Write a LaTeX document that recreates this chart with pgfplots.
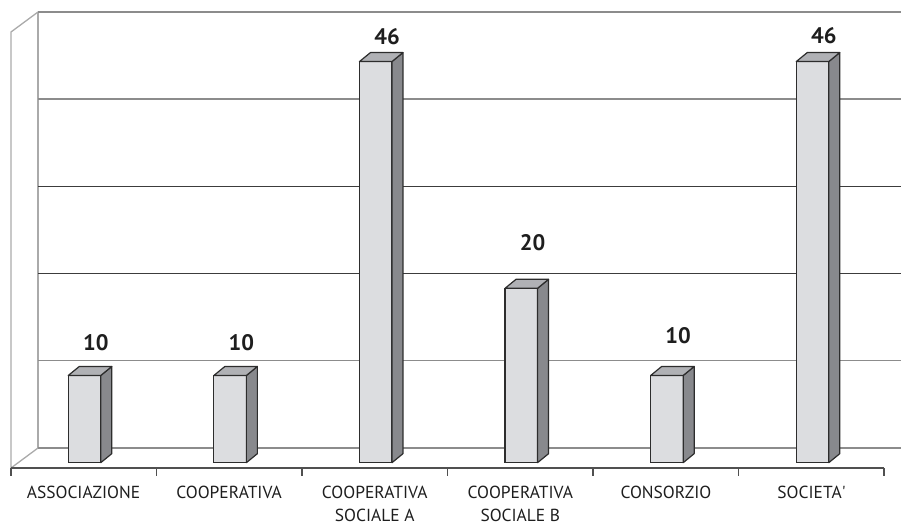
\documentclass[border=0pt]{standalone}
\usepackage{fontspec}
\setmainfont{PT Sans}
\usepackage{pgfplots}
\usepackage{pgfplotstable}
\pgfplotsset{compat=1.18}
\definecolor{frontc}{RGB}{220,221,224}
\definecolor{sidec}{RGB}{136,137,141}
\definecolor{topc}{RGB}{176,177,181}
\definecolor{edgec}{RGB}{45,45,45}
\definecolor{wallc}{RGB}{170,170,170}
\definecolor{gridc}{RGB}{140,140,140}
\definecolor{darkgrid}{RGB}{60,60,60}
\definecolor{axisc}{RGB}{80,80,80}
\definecolor{textc}{RGB}{30,30,30}
\pgfplotstableread{
x v dy
0 10 33
1 10 33
2 46 25.2
3 20 45.5
4 10 40.2
5 46 25.5
}\data
\begin{document}
\begin{tikzpicture}
% walls and floor (canvas coordinates, axis box lower-left at origin)
\draw[wallc, line width=1.3bp] (38bp,512bp) -- (11bp,492bp) -- (11bp,56bp) -- (38bp,76bp);
\draw[wallc, line width=1.3bp] (38bp,512bp) -- (38bp,76bp);
\draw[gridc, line width=1.4bp] (38bp,512bp) -- (901bp,512bp);
\draw[gridc, line width=1.4bp] (38bp,424.8bp) -- (901bp,424.8bp);
\draw[darkgrid, line width=1.4bp] (38bp,337.6bp) -- (901bp,337.6bp);
\draw[darkgrid, line width=1.4bp] (38bp,250.4bp) -- (901bp,250.4bp);
\draw[gridc, line width=1.4bp] (38bp,163.2bp) -- (901bp,163.2bp);
\draw[gridc, line width=1.4bp] (38bp,76bp) -- (901bp,76bp);
\draw[axisc, line width=1.5bp] (11bp,56bp) -- (884bp,56bp);
\foreach \t in {11,156.5,302,447.5,593,738.5,884}
  \draw[axisc, line width=1.5bp] (\t bp,56bp) -- (\t bp,48bp);
\begin{axis}[
  x=145.6bp, y=8.72bp,
  xmin=-0.580357, xmax=5.607830,
  ymin=-7.029817, ymax=53.061927,
  clip=false,
  axis line style={draw=none},
  tick style={draw=none},
  ytick=\empty,
  xtick={0,1,2,3,4,5},
  xticklabels={ASSOCIAZIONE,COOPERATIVA,{COOPERATIVA\\SOCIALE A},{COOPERATIVA\\SOCIALE B},CONSORZIO,SOCIETA\textquotesingle},
  xticklabel style={anchor=north, inner sep=0pt, align=center, yshift=38bp, xshift=-1bp,
    font=\fontsize{17.5}{22.5}\selectfont, text=textc},
  /pgf/number format/assume math mode=true,
]
\addplot[ybar, bar width=32.5bp, bar shift=0pt, fill=frontc, draw=edgec, line width=1.2bp,
  visualization depends on={\thisrow{dy} \as \dy},
  nodes near coords,
  every node near coord/.append style={anchor=center, xshift=11.3bp, yshift=\dy bp,
    font=\fontsize{22.5}{25}\selectfont\bfseries, text=textc, inner sep=0pt},
] table[x=x, y=v] {\data};
\addplot[scatter, only marks, mark=*, mark size=0pt, mark options={draw=none, fill=none},
  visualization depends on={\thisrow{v}*8.72 \as \hh},
  scatter/@pre marker code/.code={%
    \filldraw[fill=sidec, draw=edgec, line width=1.2bp, line join=round, draw opacity=1, fill opacity=1]
      (16.25bp,0bp) -- (27.25bp,9bp) -- (27.25bp,9bp-\hh bp) -- (16.25bp,-\hh bp) -- cycle;
    \filldraw[fill=topc, draw=edgec, line width=1.2bp, line join=round, draw opacity=1, fill opacity=1]
      (-16.25bp,0bp) -- (-5.25bp,9bp) -- (27.25bp,9bp) -- (16.25bp,0bp) -- cycle;
    \begin{scope}},
  scatter/@post marker code/.code={\end{scope}},
] table[x=x, y=v] {\data};
\end{axis}
\pgfresetboundingbox
\path (0,0) rectangle (901bp,524bp);
\end{tikzpicture}
\end{document}
